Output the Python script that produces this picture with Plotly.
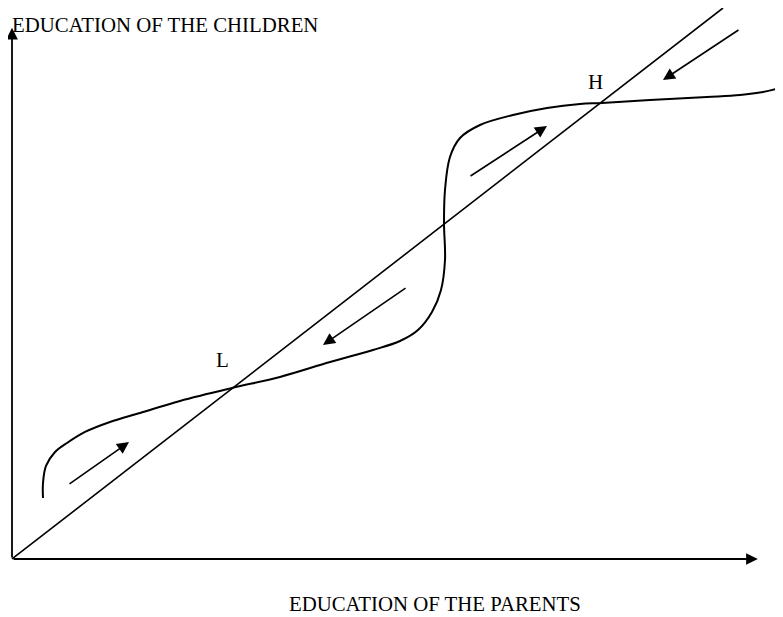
import plotly.graph_objects as go

# S-shaped transition curve (education of children as function of parents)
curve_x = [4.36, 4.36, 4.78, 6.05, 7.74, 10.27, 13.78, 18.00, 23.63, 30.94, 37.69, 44.73,
           50.77, 54.57, 57.10, 59.07, 60.34, 60.90, 60.76, 60.90, 61.60, 63.01, 65.82,
           70.46, 75.25, 79.89, 82.98, 89.73, 97.75, 102.39, 105.63, 108.02]
curve_y = [11.07, 13.79, 16.88, 19.42, 21.05, 23.05, 24.86, 26.50, 28.68, 31.03, 33.03, 35.75,
           37.93, 39.56, 41.56, 44.83, 48.82, 54.26, 60.98, 66.97, 72.96, 76.41, 78.77,
           80.58, 81.85, 82.58, 82.76, 83.30, 83.85, 84.21, 84.75, 85.48]

# 45-degree line
diag_x = [0, 100]
diag_y = [0, 100]

# axes (arrow ends)
xaxis_end = (104.9, 0.0)
yaxis_end = (0.0, 96.4)

# dynamic arrows: (tail_x, tail_y, tip_x, tip_y)
arrows = [
    (7.88, 13.43, 16.46, 21.23),
    (55.56, 49.36, 43.74, 38.84),
    (64.28, 69.33, 75.25, 78.58),
    (102.39, 96.19, 91.56, 86.93),
]

# point labels
point_labels = ["L", "H"]
point_label_x = [29.54, 82.0]
point_label_y = [36.2, 86.6]

y_title = "EDUCATION OF THE CHILDREN"
x_title = "EDUCATION OF THE PARENTS"

FONT = "Liberation Serif, Times New Roman, serif"

fig = go.Figure()
fig.add_trace(go.Scatter(x=diag_x, y=diag_y, mode="lines",
                         line=dict(color="black", width=1.6), hoverinfo="skip"))
fig.add_trace(go.Scatter(x=curve_x, y=curve_y, mode="lines",
                         line=dict(color="black", width=2, shape="spline", smoothing=1.0),
                         hoverinfo="skip"))

ann = []
# axes
ann.append(dict(x=xaxis_end[0], y=xaxis_end[1], ax=0, ay=0, xref="x", yref="y",
                axref="x", ayref="y", showarrow=True, arrowhead=2, arrowsize=1.3,
                arrowwidth=1.8, arrowcolor="black", standoff=0, text=""))
ann.append(dict(x=yaxis_end[0], y=yaxis_end[1], ax=0, ay=0, xref="x", yref="y",
                axref="x", ayref="y", showarrow=True, arrowhead=2, arrowsize=1.3,
                arrowwidth=1.8, arrowcolor="black", standoff=0, text=""))
for tx, ty, hx, hy in arrows:
    ann.append(dict(x=hx, y=hy, ax=tx, ay=ty, xref="x", yref="y", axref="x", ayref="y",
                    showarrow=True, arrowhead=2, arrowsize=1.5, arrowwidth=1.6,
                    arrowcolor="black", standoff=0, text=""))
for t, lx, ly in zip(point_labels, point_label_x, point_label_y):
    ann.append(dict(x=lx, y=ly, xref="x", yref="y", text=t, showarrow=False,
                    font=dict(family=FONT, size=21, color="black")))
ann.append(dict(x=-0.3, y=97.0, xref="x", yref="y", text=y_title, showarrow=False,
                xanchor="left", yanchor="middle",
                font=dict(family=FONT, size=20.8, color="black")))
ann.append(dict(x=59.5, y=-8.0, xref="x", yref="y", text=x_title, showarrow=False,
                xanchor="center", yanchor="middle",
                font=dict(family=FONT, size=20.8, color="black")))

# the page body has an 8px margin, so the figure is sized to fill the rest of the window
fig.update_layout(
    width=775, height=609, autosize=False,
    margin=dict(l=0, r=0, t=0, b=0),
    paper_bgcolor="white", plot_bgcolor="white",
    showlegend=False, hovermode=False,
    xaxis=dict(range=[-0.5626, 108.44], visible=False, fixedrange=True),
    yaxis=dict(range=[-10.53, 100.0], visible=False, fixedrange=True),
    annotations=ann,
)

fig.write_html("out.html", config={"displayModeBar": False, "staticPlot": True})
